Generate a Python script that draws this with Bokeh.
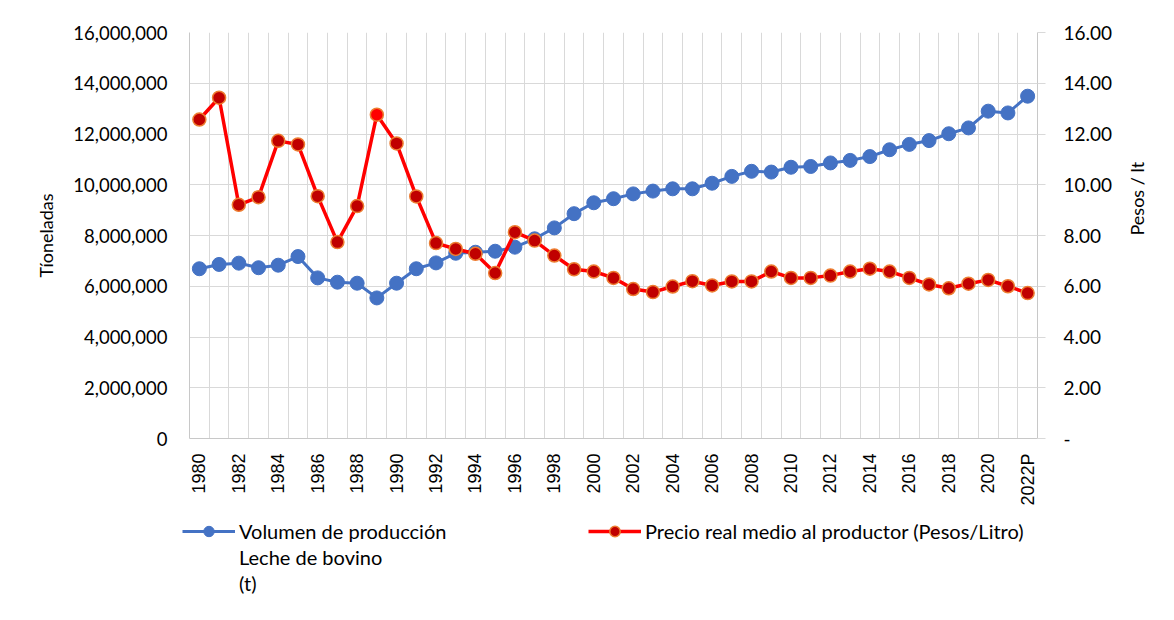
import math
from bokeh.plotting import figure
from bokeh.layouts import column
from bokeh.models import (Range1d, LinearAxis, FixedTicker, NumeralTickFormatter,
                          Legend, LegendItem, ColumnDataSource)
from bokeh.core.properties import value
from bokeh.embed import file_html
from bokeh.resources import INLINE

years = ["1980", "1981", "1982", "1983", "1984", "1985", "1986", "1987", "1988", "1989",
         "1990", "1991", "1992", "1993", "1994", "1995", "1996", "1997", "1998", "1999",
         "2000", "2001", "2002", "2003", "2004", "2005", "2006", "2007", "2008", "2009",
         "2010", "2011", "2012", "2013", "2014", "2015", "2016", "2017", "2018", "2019",
         "2020", "2021", "2022P"]

volumen = [6690000, 6860000, 6910000, 6730000, 6830000, 7170000, 6330000, 6160000, 6120000, 5540000,
           6120000, 6690000, 6920000, 7300000, 7340000, 7380000, 7540000, 7870000, 8300000, 8860000,
           9290000, 9450000, 9640000, 9750000, 9840000, 9840000, 10060000, 10330000, 10530000, 10500000,
           10690000, 10720000, 10860000, 10960000, 11110000, 11380000, 11590000, 11740000, 12010000, 12240000,
           12900000, 12830000, 13490000]

precio = [12.57, 13.43, 9.21, 9.51, 11.73, 11.59, 9.55, 7.74, 9.16, 12.76,
          11.63, 9.54, 7.70, 7.47, 7.28, 6.52, 8.13, 7.80, 7.21, 6.67,
          6.58, 6.33, 5.89, 5.77, 5.99, 6.20, 6.03, 6.19, 6.19, 6.58,
          6.33, 6.33, 6.42, 6.58, 6.69, 6.58, 6.33, 6.07, 5.92, 6.10,
          6.25, 6.00, 5.73]

left_ticks = [0, 2000000, 4000000, 6000000, 8000000, 10000000, 12000000, 14000000, 16000000]
right_ticks = [0, 2, 4, 6, 8, 10, 12, 14, 16]

label_vol = ["Volumen de producción", "Leche de bovino", "(t)"]
label_pre = "Precio real medio al productor (Pesos/Litro)"
title_left = "Tíoneladas"
title_right = "Pesos / lt"

BLUE = "#4472C4"
RED = "#FF0000"
DARKRED = "#C00000"
ORANGE = "#ED7D31"
GRID = "#D9D9D9"
AXIS = "#C8C8C8"
TXT = "#000000"
FONT = "Lato"

n = len(years)
idx = list(range(n))
fills = [RED if y == "1989" else DARKRED for y in years]
src = ColumnDataSource(dict(x=idx, vol=volumen, pre=precio, relleno=fills))

BL, FW, BR = 189, 848, 130

p = figure(frame_width=FW, frame_height=406,
           x_range=Range1d(-0.5, n - 0.5), y_range=Range1d(left_ticks[0], left_ticks[-1]),
           output_backend="svg", toolbar_location=None,
           min_border_left=BL, min_border_right=BR, min_border_top=32, min_border_bottom=80,
           background_fill_color="white", border_fill_color="white")
p.outline_line_color = None
p.extra_y_ranges = {"precio": Range1d(right_ticks[0], right_ticks[-1])}

# grids
p.xgrid.ticker = FixedTicker(ticks=[i - 0.5 for i in range(n + 1)])
p.ygrid.ticker = FixedTicker(ticks=left_ticks)
for g in (p.xgrid, p.ygrid):
    g.grid_line_color = GRID
    g.grid_line_width = 1

# bottom axis
xa = p.xaxis[0]
xa.ticker = FixedTicker(ticks=[i for i in idx if i % 2 == 0])
xa.major_label_overrides = {i: years[i] for i in idx if i % 2 == 0}
xa.major_label_orientation = math.pi / 2
xa.major_label_text_font = "Liberation Sans"
xa.major_label_text_font_size = "18px"
xa.major_label_text_color = TXT
xa.major_label_standoff = 15
xa.major_tick_out = 0
xa.major_tick_in = 0
xa.minor_tick_out = 0
xa.minor_tick_in = 0
xa.axis_line_color = AXIS

# left axis
ya = p.yaxis[0]
ya.ticker = FixedTicker(ticks=left_ticks)
ya.formatter = NumeralTickFormatter(format="0,0")
ya.major_label_text_font = FONT
ya.major_label_text_font_size = "18.5px"
ya.major_label_text_color = TXT
ya.major_label_standoff = 22
ya.major_tick_out = 0
ya.major_tick_in = 0
ya.minor_tick_out = 0
ya.minor_tick_in = 0
ya.axis_line_color = AXIS
ya.axis_label = title_left
ya.axis_label_text_font = FONT
ya.axis_label_text_font_size = "18px"
ya.axis_label_text_font_style = "normal"
ya.axis_label_text_color = TXT
ya.axis_label_standoff = 13

# right axis
ra = LinearAxis(y_range_name="precio", ticker=FixedTicker(ticks=right_ticks),
                formatter=NumeralTickFormatter(format="0.00"))
ra.major_label_overrides = {0: "-"}
ra.major_label_text_font = FONT
ra.major_label_text_font_size = "19px"
ra.major_label_text_color = TXT
ra.major_label_standoff = 18
ra.major_tick_out = 8
ra.major_tick_in = 0
ra.major_tick_line_color = GRID
ra.minor_tick_out = 0
ra.minor_tick_in = 0
ra.axis_line_color = AXIS
ra.axis_label = title_right
ra.axis_label_text_font = FONT
ra.axis_label_text_font_size = "18px"
ra.axis_label_text_font_style = "normal"
ra.axis_label_text_color = TXT
ra.axis_label_standoff = 22
if "axis_label_orientation" in LinearAxis.properties():
    ra.axis_label_orientation = math.pi / 2
p.add_layout(ra, "right")

# series
p.line("x", "vol", source=src, line_color=BLUE, line_width=3)
p.scatter("x", "vol", source=src, size=14, fill_color=BLUE, line_color=BLUE)
p.line("x", "pre", source=src, line_color=RED, line_width=3.5, y_range_name="precio")
p.scatter("x", "pre", source=src, size=13, fill_color="relleno", line_color=ORANGE,
          line_width=1.5, y_range_name="precio")

# legend strip below the chart: same series and styles, drawn off-range so only the
# legend swatches show
q = figure(frame_width=BL + FW + BR, frame_height=97, x_range=Range1d(-1000, -999),
           y_range=Range1d(-1000, -999),
           x_axis_type=None, y_axis_type=None, output_backend="svg", toolbar_location=None,
           min_border_left=0, min_border_right=0, min_border_top=0, min_border_bottom=0,
           background_fill_color="white", border_fill_color="white")
q.outline_line_color = None
q.grid.visible = False
k1 = q.line("x", "vol", source=src, line_color=BLUE, line_width=3)
k2 = q.scatter("x", "vol", source=src, size=14, fill_color=BLUE, line_color=BLUE)
k3 = q.line("x", "pre", source=src, line_color=RED, line_width=3.5)
k4 = q.scatter("x", "pre", source=src, size=13, fill_color="relleno", line_color=ORANGE,
               line_width=1.5)
ghost = q.line("x", "vol", source=src, line_alpha=0)

legend = Legend(items=[LegendItem(label=value(label_vol[0]), renderers=[k1, k2]),
                       LegendItem(label=value(label_vol[1]), renderers=[ghost]),
                       LegendItem(label=value(label_vol[2]), renderers=[ghost]),
                       LegendItem(label=value(label_pre), renderers=[k3, k4])],
                orientation="vertical", nrows=3, location=(182, 19),
                padding=0, margin=0, spacing=0,
                glyph_width=53, glyph_height=26, label_height=26, label_width=349,
                label_standoff=4,
                border_line_color=None, background_fill_alpha=0,
                label_text_font=FONT, label_text_font_size="20px", label_text_color=TXT)
q.add_layout(legend)

layout = column(p, q, spacing=0)
open("out.html", "w").write(file_html(layout, INLINE))
